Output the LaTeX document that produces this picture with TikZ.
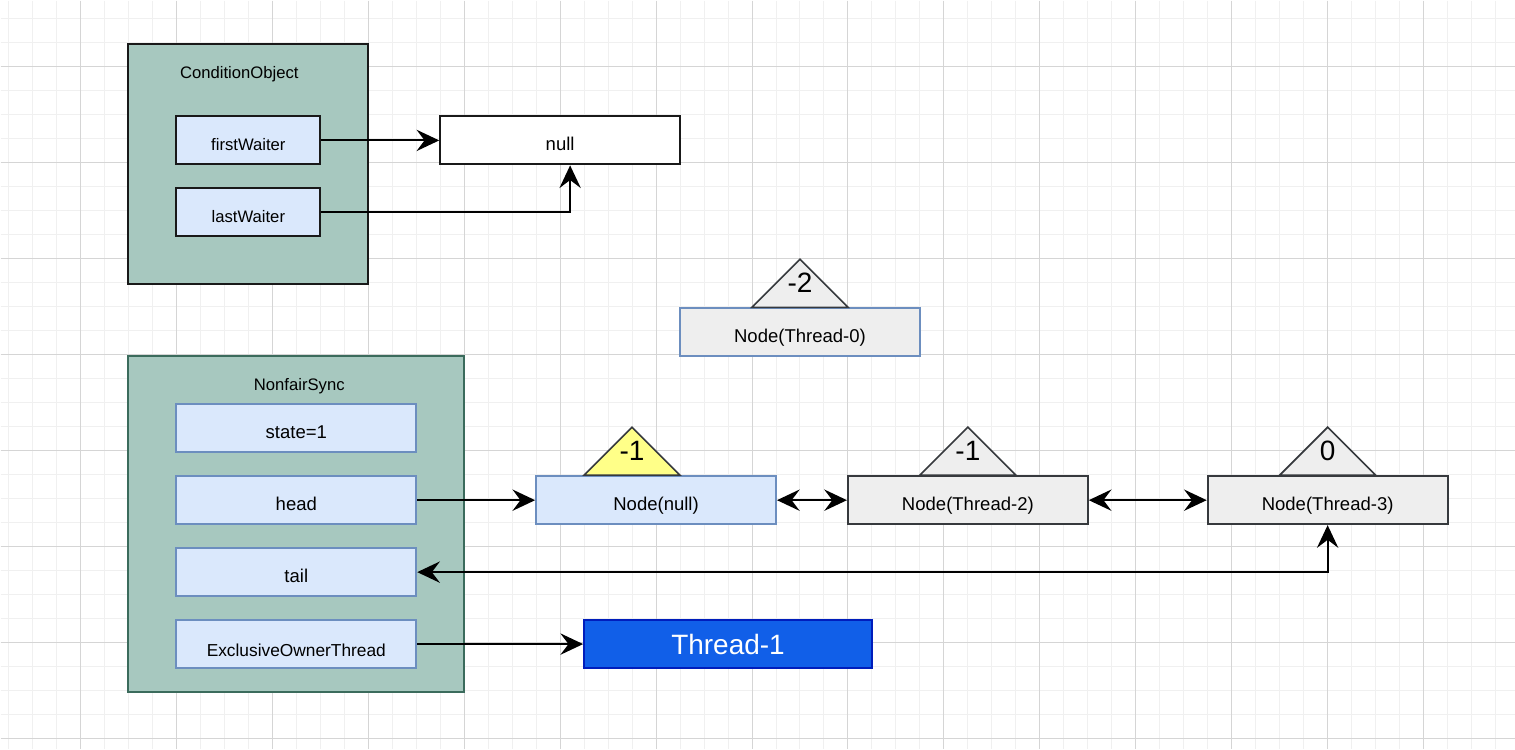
\documentclass[tikz,border=0pt]{standalone}
\usepackage{fontspec}
\setmainfont{Liberation Sans}
\usetikzlibrary{arrows.meta,positioning}
\definecolor{syncgreen}{HTML}{A7C8BF}
\definecolor{syncedge}{HTML}{3B6B5C}
\definecolor{fieldfill}{HTML}{DAE8FC}
\definecolor{fieldedge}{HTML}{6C8EBF}
\definecolor{qgray}{HTML}{EEEEEE}
\definecolor{qedge}{HTML}{36393D}
\definecolor{trisun}{HTML}{FFFF88}
\definecolor{threadblue}{HTML}{115FE8}
\definecolor{threadedge}{HTML}{001DBC}
\definecolor{gridlo}{HTML}{F0F0F0}
\definecolor{gridhi}{HTML}{D5D5D5}
\tikzset{gridminor/.style={draw=gridlo, line width=0.75pt},
	gridmajor/.style={draw=gridhi, line width=0.75pt}}
\tikzset{outerbox/.style={draw=black!90, fill=syncgreen, line width=1.5pt, minimum width=180pt, minimum height=180pt},
	boxlabel/.style={font=\fontsize{12.5}{15}\selectfont, inner sep=0pt, text height=9pt, text depth=0pt},
	fieldbox/.style={draw=fieldedge, fill=fieldfill, line width=1.5pt, minimum width=180pt, minimum height=36pt, inner sep=0pt, font=\fontsize{13.9}{16}\selectfont, text height=15pt, text depth=0pt},
	waiterbox/.style={fieldbox, draw=black!90, minimum width=108pt, font=\fontsize{12.5}{15}\selectfont, text height=15.5pt},
	qnode/.style={fieldbox, fill=qgray, draw=qedge},
	trishape/.style={draw=qedge, line width=1.2pt},
	trilabel/.style={font=\fontsize{21}{24}\selectfont, inner sep=0pt, text height=14pt, text depth=0pt},
	link/.style={line width=1.5pt, ->},
	dlink/.style={line width=1.5pt, <->}}

\begin{document}
\begin{tikzpicture}[x=0.75pt, y=-0.75pt, >={Stealth[length=17pt,width=16pt,inset=6pt]}]
	% paper and grid
	\fill[white] (0,0) rectangle (1515,749);
	\foreach \gx in {8,32,...,1515} \draw[gridminor] (\gx,0) -- (\gx,749);
	\foreach \gy in {18,42,...,749} \draw[gridminor] (0,\gy) -- (1515,\gy);
	\foreach \gx in {80,176,...,1515} \draw[gridmajor] (\gx,0) -- (\gx,749);
	\foreach \gy in {66,162,...,749} \draw[gridmajor] (0,\gy) -- (1515,\gy);
	\useasboundingbox (0,0) rectangle (1515,749);
	
	% ConditionObject
	\node[outerbox] (cond) at (248,164) {};
	\node[boxlabel] (condlabel) at (239,72) {ConditionObject};
	\node[waiterbox] (first) at (248,140) {firstWaiter};
	\node[waiterbox, below=16.5pt of first] (last) {lastWaiter};
	\node[waiterbox, draw=black!90, fill=white, minimum width=180pt, font=\fontsize{13.9}{16}\selectfont, text height=15pt] (nullbox) at (560,140) {null};
	
	% NonfairSync
	\node[outerbox, draw=syncedge, minimum width=252pt, minimum height=252pt] (sync) at (296,524) {};
	\node[boxlabel] (synclabel) at (299,384) {NonfairSync};
	\node[fieldbox] (state) at (296,428) {state=1};
	\node[fieldbox, below=16.5pt of state] (head) {head};
	\node[fieldbox, below=16.5pt of head] (tail) {tail};
	\node[fieldbox, below=16.5pt of tail, font=\fontsize{13}{15}\selectfont, text height=18pt] (owner) {ExclusiveOwnerThread};
	
	% queue nodes
	\node[qnode, draw=fieldedge] (t0) at (800,332) {Node(Thread-0)};
	\node[fieldbox] (nnull) at (656,500) {Node(null)};
	\node[qnode] (t2) at (968,500) {Node(Thread-2)};
	\node[qnode] (t3) at (1328,500) {Node(Thread-3)};
	\node[fieldbox, fill=threadblue, draw=threadedge, minimum width=216pt, text=white, font=\fontsize{21}{24}\selectfont] (thread1) at (728,644) {Thread-1};
	
	% waitStatus
	\coordinate (nnulltop) at ([xshift=-18pt]nnull.north);
	\draw[trishape, fill=qgray] ([xshift=-36pt]t0.north) -- ([yshift=36pt]t0.north) -- ([xshift=36pt]t0.north) -- cycle;
	\node[trilabel] (t0val) at ([yshift=18pt]t0.north) {-2};
	\draw[trishape, fill=trisun] ([xshift=-36pt]nnulltop) -- ([yshift=36pt]nnulltop) -- ([xshift=36pt]nnulltop) -- cycle;
	\node[trilabel] (nnullval) at ([yshift=18pt]nnulltop) {-1};
	\draw[trishape, fill=qgray] ([xshift=-36pt]t2.north) -- ([yshift=36pt]t2.north) -- ([xshift=36pt]t2.north) -- cycle;
	\node[trilabel] (t2val) at ([yshift=18pt]t2.north) {-1};
	\draw[trishape, fill=qgray] ([xshift=-36pt]t3.north) -- ([yshift=36pt]t3.north) -- ([xshift=36pt]t3.north) -- cycle;
	\node[trilabel] (t3val) at ([yshift=18pt]t3.north) {0};
	
	% pointers
	\draw[link] (first.east) -- (nullbox.west);
	\draw[link] (last.east) -| ([xshift=7.5pt]nullbox.south);
	\draw[link] (head.east) -- (nnull.west);
	\draw[dlink] (nnull.east) -- (t2.west);
	\draw[dlink] (t2.east) -- (t3.west);
	\draw[dlink] (tail.east) -| (t3.south);
	\draw[link] (owner.east) -- (thread1.west);
\end{tikzpicture}
\end{document}
